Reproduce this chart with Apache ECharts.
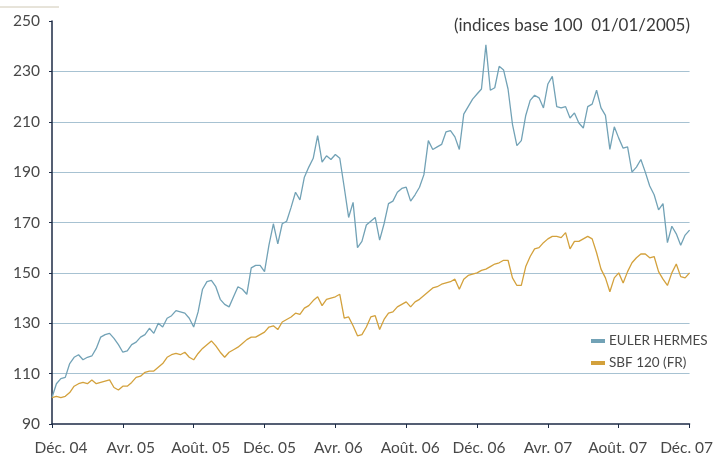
<!DOCTYPE html>
<html>
<head>
<meta charset="utf-8">
<script src="https://cdn.jsdelivr.net/npm/echarts@6/dist/echarts.min.js"></script>
<style>
  html, body { margin: 0; padding: 0; background: #fff; }
  #chart { width: 716px; height: 457px; }
</style>
</head>
<body>
<div id="chart"></div>
<script>
// x axis in months from Dec 2004, one tick label every 4 months
const tickLabels = ['Déc. 04', 'Avr. 05', 'Août. 05', 'Déc. 05', 'Avr. 06', 'Août. 06', 'Déc. 06', 'Avr. 07', 'Août. 07', 'Déc. 07']
// the labels in the original sit a little off their ticks (px, + = right)
const labelShift = [9, 8, 7, 5, 3, 4, 2, 0, -1, -3]
const step = 0.25 // one reading per quarter month

// values
const eulerHermes = [
  100.5, 106, 108, 108.5, 114, 116.5, 117.5, 115.5, 116.5, 117, 120, 124.5,
  125.5, 126, 124, 121.5, 118.5, 119, 121.5, 122.5, 124.5, 125.5, 128, 126,
  130, 128.5, 132, 133, 135, 134.5, 134, 132, 128.5, 134.5, 143.5, 146.5,
  147, 144.5, 139.5, 137.5, 136.5, 140.5, 144.5, 143.5, 141.5, 152, 153, 153,
  150.5, 161, 169.5, 161.5, 169.5, 170.5, 176, 182, 179, 188, 192, 195.5,
  204.5, 194, 196.5, 195, 197, 195.5, 184, 172, 178, 160, 162.5, 169,
  170.5, 172, 163, 169.5, 177.5, 178.5, 182, 183.5, 184, 178.5, 181, 184,
  189, 202.5, 199, 200, 201, 206, 206.5, 204, 199, 213, 216, 219,
  221, 223, 240.5, 222.5, 223.5, 232, 230.5, 223, 209, 200.5, 202.5, 212.5,
  218.5, 220.5, 219.5, 215.5, 225, 228, 216, 215.5, 216, 211.5, 213.5, 209.5,
  207.5, 216, 217, 222.5, 215.5, 212.5, 199, 208, 203.5, 199.5, 200, 190,
  192, 195, 190, 184.5, 181, 175, 177.5, 162, 168.5, 165.5, 161, 165,
  167
]
const sbf120 = [
  100.5, 101, 100.5, 101, 102.5, 105, 106, 106.5, 106, 107.5, 106, 106.5,
  107, 107.5, 104.5, 103.5, 105, 105, 106.5, 108.5, 109, 110.5, 111, 111,
  112.5, 114, 116.5, 117.5, 118, 117.5, 118.5, 116.5, 115.5, 118, 120, 121.5,
  123, 121, 118.5, 116.5, 118.5, 119.5, 120.5, 122, 123.5, 124.5, 124.5, 125.5,
  126.5, 128.5, 129, 127.5, 130.5, 131.5, 132.5, 134, 133.5, 136, 137, 139,
  140.5, 137, 139.5, 140, 140.5, 141.5, 132, 132.5, 129, 125, 125.5, 128.5,
  132.5, 133, 127.5, 131.5, 134, 134.5, 136.5, 137.5, 138.5, 136.5, 138.5, 139.5,
  141, 142.5, 144, 144.5, 145.5, 146, 146.5, 147.5, 143.5, 147.5, 149, 149.5,
  150, 151, 151.5, 152.5, 153.5, 154, 155, 155, 148, 145, 145, 152.5,
  156.5, 159.5, 160, 162, 163.5, 164.5, 164.5, 164, 166, 159.5, 162.5, 162.5,
  163.5, 164.5, 163.5, 158, 151.5, 148, 142.5, 148, 150, 146, 150.5, 154,
  156, 157.5, 157.5, 156, 156.5, 150.5, 147.5, 145, 150, 153.5, 148.5, 148,
  150
]

const toPoints = arr => arr.map((v, i) => [i * step, v])

const textColor = '#484848'
const axisColor = '#1c2a45'
const font = 'Lato'

// one rich style per x label so each can be nudged
const richX = {}
labelShift.forEach((s, i) => {
  richX['l' + i] = {
    fontFamily: font,
    fontSize: 15.5,
    color: textColor,
    padding: s >= 0 ? [0, 0, 0, 2 * s] : [0, -2 * s, 0, 0]
  }
})

const chart = echarts.init(document.getElementById('chart'))
chart.setOption({
  animation: false,
  backgroundColor: '#fff',
  textStyle: { fontFamily: font },
  title: {
    text: '(indices base 100  01/01/2005)',
    right: 21,
    top: 12,
    textStyle: { fontFamily: font, fontSize: 17, fontWeight: 'normal', color: '#3a3a3a' }
  },
  graphic: [{
    type: 'line',
    shape: { x1: 0, y1: 7, x2: 59, y2: 7 },
    style: { stroke: '#cfc8b4', lineWidth: 1 }
  }],
  legend: {
    orient: 'vertical',
    left: 586,
    top: 329,
    itemGap: 8,
    itemWidth: 14,
    itemHeight: 4,
    icon: 'rect',
    textStyle: { fontFamily: font, fontSize: 13.5, color: textColor, padding: [0, 0, 0, -1] },
    data: ['EULER HERMES', 'SBF 120 (FR)']
  },
  grid: {
    left: 52,
    right: 22,
    top: 21,
    bottom: 33,
    containLabel: false
  },
  xAxis: {
    type: 'value',
    min: 0,
    max: 36,
    interval: 4,
    axisLine: { lineStyle: { color: axisColor, width: 1.5 } },
    axisTick: { length: 4, lineStyle: { color: axisColor, width: 1 } },
    axisLabel: {
      margin: 16,
      fontSize: 15.5,
      color: textColor,
      rich: richX,
      formatter: v => {
        const i = Math.round(v / 4)
        return '{l' + i + '|' + tickLabels[i] + '}'
      }
    },
    splitLine: { show: false }
  },
  yAxis: {
    type: 'value',
    min: 90,
    max: 250,
    interval: 20,
    axisLine: { show: true, lineStyle: { color: axisColor, width: 1.5 } },
    axisTick: { show: true, length: 3, lineStyle: { color: axisColor } },
    axisLabel: { margin: 12, fontSize: 15.5, color: textColor },
    splitLine: {
      show: true,
      showMinLine: false,
      showMaxLine: false,
      lineStyle: { color: '#a7c2d2', width: 1.2 }
    }
  },
  series: [
    {
      name: 'EULER HERMES',
      type: 'line',
      data: toPoints(eulerHermes),
      showSymbol: false,
      color: '#72a2b6',
      lineStyle: { width: 1.3, color: '#72a2b6' }
    },
    {
      name: 'SBF 120 (FR)',
      type: 'line',
      data: toPoints(sbf120),
      showSymbol: false,
      color: '#d3a13c',
      lineStyle: { width: 1.3, color: '#d3a13c' }
    }
  ]
})
</script>
</body>
</html>
